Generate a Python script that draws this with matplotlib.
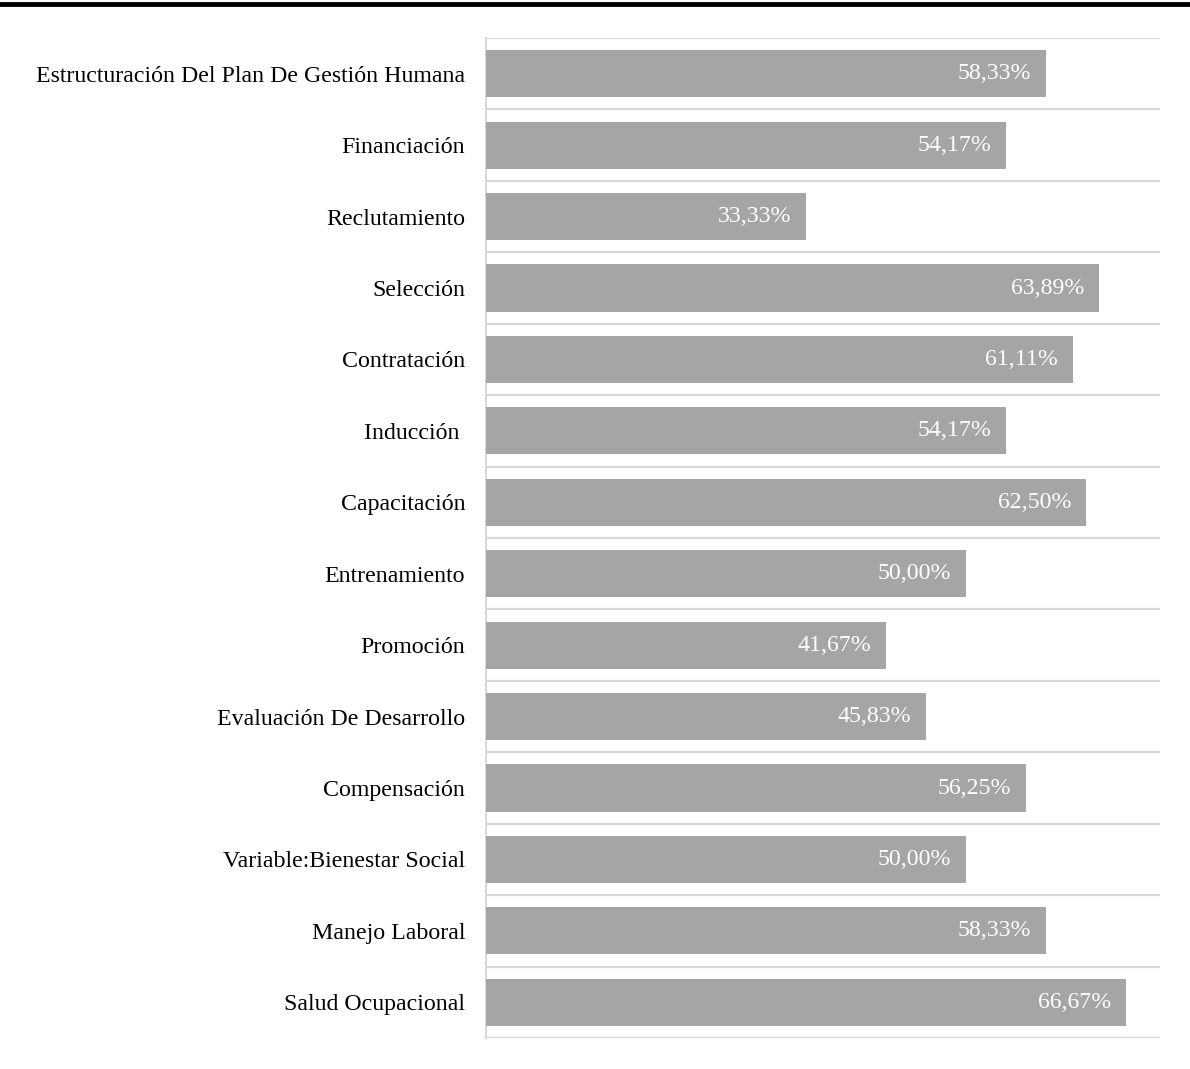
import numpy as np
import matplotlib.pyplot as plt

# datos: porcentaje por variable (de arriba hacia abajo)
categorias = [
    'Estructuración Del Plan De Gestión Humana',
    'Financiación',
    'Reclutamiento',
    'Selección',
    'Contratación',
    'Inducción ',
    'Capacitación',
    'Entrenamiento',
    'Promoción',
    'Evaluación De Desarrollo',
    'Compensación',
    'Variable:Bienestar Social',
    'Manejo Laboral',
    'Salud Ocupacional',
]
valores = [58.33, 54.17, 33.33, 63.89, 61.11, 54.17, 62.50, 50.00, 41.67, 45.83, 56.25, 50.00, 58.33, 66.67]

plt.rcParams['font.family'] = ['Liberation Serif', 'DejaVu Serif']

fig = plt.figure(figsize=(11.9, 10.69), dpi=100)
ax = fig.add_axes([486 / 1190, 1 - 1038 / 1069, (1160 - 486) / 1190, 1000 / 1069])

y = np.arange(len(categorias))
bars = ax.barh(y, valores, height=0.66, color='#a5a5a5', zorder=3)

ax.set_xlim(0, 70.2)
ax.set_ylim(len(categorias) - 0.5, -0.5)
ax.set_yticks(y)
ax.set_yticklabels(categorias, fontsize=17.2)
ax.set_xticks([])
ax.tick_params(axis='y', length=0, pad=15)

# lineas de separacion entre categorias
for b in np.arange(-0.5, len(categorias), 1.0):
    ax.axhline(b, color='#d9d9d9', linewidth=1.6, zorder=1)

for s in ['top', 'right', 'bottom']:
    ax.spines[s].set_visible(False)
ax.spines['left'].set_color('#d9d9d9')
ax.spines['left'].set_linewidth(1.5)

for bar, v in zip(bars, valores):
    etiqueta = f'{v:.2f}%'.replace('.', ',')
    ax.text(bar.get_width() - 1.55, bar.get_y() + bar.get_height() / 2, etiqueta,
            ha='right', va='center', color='white', fontsize=17.2, zorder=4)

# linea negra superior
fig.add_artist(plt.Line2D([0, 1], [1 - 4 / 1069, 1 - 4 / 1069], color='black', linewidth=3.5))

fig.savefig('out.png', dpi=100)
